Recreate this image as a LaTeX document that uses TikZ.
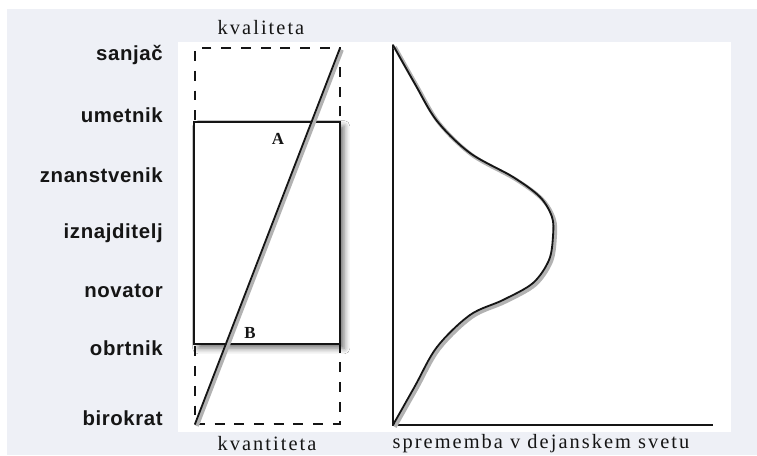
\documentclass[tikz,border=0pt]{standalone}
\usepackage{fontspec}
\setmainfont{Liberation Serif}
\newfontfamily\rolefont[LetterSpace=3]{Liberation Sans}
\newfontfamily\scalefont[LetterSpace=10]{Liberation Serif}
\usetikzlibrary{positioning,shadows.blur}
\definecolor{ink}{HTML}{151515}
\definecolor{wall}{HTML}{EEF0F6}
\tikzset{
  role/.style    ={anchor=base east, inner sep=0pt, text=ink, font=\rolefont\bfseries\fontsize{14.5}{17}\selectfont},
  scale lbl/.style={anchor=base, inner sep=0pt, text=ink, font=\scalefont\fontsize{14.5}{17}\selectfont},
  corner/.style  ={inner sep=0pt, text=ink, font=\bfseries\fontsize{12}{14}\selectfont},
  span/.style    ={draw=ink, line width=1.3pt, dash pattern=on 7pt off 7pt, inner sep=0pt, outer sep=0pt},
  core/.style    ={draw=ink, line width=1.3pt, fill=white, inner sep=0pt, outer sep=0pt,
                   blur shadow={shadow xshift=3pt, shadow yshift=-3pt, shadow blur radius=4pt, shadow opacity=55}},
  ln/.style      ={draw=ink, line width=1.3pt, line cap=round, line join=round,
                   preaction={draw=black!30, line width=2.6pt, transform canvas={xshift=1.4pt, yshift=-1.4pt}}},
  ax/.style      ={draw=ink, line width=1.3pt},
}

\begin{document}
\begin{tikzpicture}[x=0.025cm, y=-0.025cm]
  % page and panel
  \useasboundingbox (0,0) rectangle (757,455);
  \fill[white] (0,0) rectangle (757,455);
  \fill[wall] (7,9) rectangle (757,455);
  \fill[white] (178,42) rectangle (731,432);

  % left scale of roles
  \node[role] (r1) at (163,60)  {sanjač};
  \node[role] (r2) at (163,122) {umetnik};
  \node[role] (r3) at (163,182) {znanstvenik};
  \node[role] (r4) at (163,238) {iznajditelj};
  \node[role] (r5) at (163,297) {novator};
  \node[role] (r6) at (163,355) {obrtnik};
  \node[role] (r7) at (163,425) {birokrat};

  % boxes
  \node[span, minimum width=3.625cm, minimum height=9.4cm] (range) at (267.5,236) {};
  \node[core, minimum width=3.65cm, minimum height=5.55cm] (mid) at (267,233) {};
  \draw[ln] (range.south west) -- (range.north east);
  \node[corner] (a) at (278,139) {A};
  \node[corner] (b) at (250,333) {B};

  \node[scale lbl] (qual) at (261,34)  {kvaliteta};
  \node[scale lbl] (quant) at (267,450) {kvantiteta};

  % right graph
  \coordinate (o) at (393,425);
  \coordinate (top) at (393,45);
  \coordinate (xend) at (713,425);
  \draw[ax] (top) -- (o) -- (xend);
  \draw[ln] plot[smooth, tension=0.55] coordinates {
    (393,45) (415,84) (437,121) (470,153) (513,177) (540,197) (552,217) (553,236)
    (549,260) (533,283) (503,300) (470,315) (437,347) (415,386) (393,425)};
  \node[scale lbl] (change) at (541,448) {sprememba v dejanskem svetu};
\end{tikzpicture}
\end{document}
